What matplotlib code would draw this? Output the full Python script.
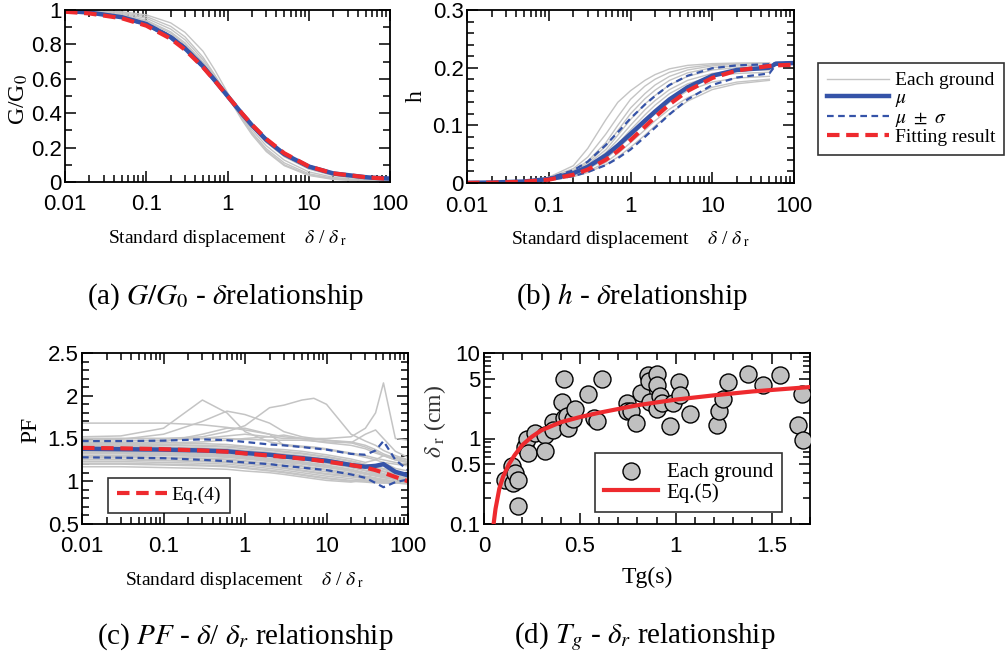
import matplotlib
matplotlib.use('Agg')
import matplotlib.pyplot as plt
from matplotlib.ticker import FixedLocator, LogLocator, MultipleLocator, NullFormatter, FixedFormatter
from matplotlib.lines import Line2D

plt.rcParams['font.family'] = ['Liberation Sans', 'DejaVu Sans']
plt.rcParams['mathtext.fontset'] = 'stix'

# ---------------- data ----------------
# (a),(b) x grid for individual grounds
X_G = [0.01, 0.02, 0.05, 0.1, 0.2, 0.3, 0.5, 0.7, 1, 1.5, 2, 3, 5, 10, 20, 50, 100]
# statistics / fitting x grid
X_STAT = [0.01, 0.02, 0.05, 0.1, 0.2, 0.3, 0.5, 0.7, 1, 1.5, 2, 3, 5, 10, 20, 50, 60, 100]

G_EACH = [
    [0.993, 0.986, 0.962, 0.925, 0.853, 0.789, 0.682, 0.597, 0.500, 0.390, 0.318, 0.230, 0.147, 0.075, 0.037, 0.014, 0.007],
    [0.996, 0.991, 0.973, 0.941, 0.873, 0.809, 0.697, 0.605, 0.500, 0.381, 0.303, 0.211, 0.127, 0.059, 0.027, 0.009, 0.004],
    [0.997, 0.994, 0.979, 0.952, 0.889, 0.827, 0.711, 0.614, 0.500, 0.372, 0.289, 0.194, 0.111, 0.048, 0.021, 0.006, 0.003],
    [0.998, 0.996, 0.985, 0.962, 0.905, 0.844, 0.725, 0.622, 0.500, 0.362, 0.275, 0.177, 0.095, 0.038, 0.015, 0.004, 0.002],
    [0.999, 0.997, 0.990, 0.972, 0.925, 0.870, 0.760, 0.650, 0.520, 0.375, 0.285, 0.185, 0.100, 0.042, 0.018, 0.006, 0.003],
    [0.994, 0.988, 0.968, 0.935, 0.865, 0.800, 0.690, 0.600, 0.505, 0.392, 0.320, 0.232, 0.150, 0.080, 0.042, 0.018, 0.010],
]
G_MU = [0.995, 0.985, 0.958, 0.918, 0.842, 0.777, 0.672, 0.590, 0.500, 0.398, 0.330, 0.245, 0.162, 0.090, 0.050, 0.028, 0.025, 0.020]
G_UP = [0.997, 0.988, 0.962, 0.923, 0.849, 0.785, 0.680, 0.597, 0.505, 0.403, 0.335, 0.250, 0.166, 0.094, 0.053, 0.030, 0.027, 0.021]
G_LO = [0.993, 0.982, 0.954, 0.913, 0.835, 0.769, 0.664, 0.583, 0.495, 0.393, 0.325, 0.240, 0.158, 0.086, 0.047, 0.026, 0.023, 0.019]
G_FIT = [0.990, 0.980, 0.952, 0.909, 0.833, 0.769, 0.667, 0.588, 0.500, 0.400, 0.333, 0.250, 0.167, 0.091, 0.050, 0.028, 0.025, 0.018]

X_H = [0.01, 0.02, 0.05, 0.1, 0.2, 0.3, 0.5, 0.7, 1, 1.5, 2, 3, 5, 10, 20, 50]
H_EACH = [
    [0.0, 0.001, 0.003, 0.010, 0.030, 0.060, 0.110, 0.140, 0.160, 0.178, 0.188, 0.198, 0.204, 0.207, 0.208, 0.208],
    [0.0, 0.001, 0.003, 0.009, 0.025, 0.045, 0.085, 0.115, 0.145, 0.168, 0.180, 0.192, 0.200, 0.205, 0.207, 0.208],
    [0.0, 0.0008, 0.0025, 0.008, 0.022, 0.038, 0.070, 0.100, 0.130, 0.155, 0.170, 0.185, 0.196, 0.203, 0.206, 0.207],
    [0.0, 0.0007, 0.0022, 0.0075, 0.020, 0.035, 0.064, 0.091, 0.120, 0.146, 0.161, 0.178, 0.191, 0.200, 0.203, 0.204],
    [0.0, 0.0006, 0.002, 0.007, 0.019, 0.032, 0.058, 0.083, 0.110, 0.137, 0.152, 0.170, 0.185, 0.196, 0.200, 0.200],
    [0.0, 0.0006, 0.002, 0.0065, 0.017, 0.029, 0.053, 0.075, 0.100, 0.127, 0.143, 0.162, 0.178, 0.190, 0.195, 0.196],
    [0.0, 0.0005, 0.002, 0.006, 0.016, 0.027, 0.048, 0.068, 0.092, 0.118, 0.135, 0.155, 0.172, 0.185, 0.190, 0.192],
    [0.0, 0.0004, 0.0018, 0.0055, 0.014, 0.024, 0.042, 0.060, 0.080, 0.104, 0.120, 0.140, 0.160, 0.175, 0.182, 0.185],
    [0.0, 0.0003, 0.0015, 0.005, 0.012, 0.020, 0.036, 0.051, 0.070, 0.092, 0.108, 0.128, 0.148, 0.166, 0.175, 0.180],
    [0.0, 0.0003, 0.0012, 0.0045, 0.011, 0.018, 0.032, 0.045, 0.062, 0.083, 0.099, 0.120, 0.142, 0.162, 0.172, 0.178],
]
H_MU = [0.0003, 0.0008, 0.0026, 0.0068, 0.017, 0.028, 0.048, 0.065, 0.085, 0.108, 0.124, 0.145, 0.166, 0.186, 0.196, 0.200, 0.207, 0.208]
H_UP = [0.0004, 0.0011, 0.0035, 0.0085, 0.022, 0.037, 0.066, 0.088, 0.112, 0.136, 0.151, 0.170, 0.186, 0.199, 0.204, 0.206, 0.208, 0.209]
H_LO = [0.0002, 0.0005, 0.0017, 0.0050, 0.012, 0.019, 0.031, 0.043, 0.058, 0.080, 0.096, 0.119, 0.145, 0.170, 0.183, 0.190, 0.205, 0.207]
H_FIT = [0.0002, 0.0006, 0.0022, 0.0058, 0.0143, 0.0233, 0.0404, 0.0555, 0.0742, 0.0976, 0.1143, 0.1364, 0.1597, 0.1821, 0.1951, 0.2030, 0.2040, 0.2050]

# (c) PF
X_PF = [0.01, 0.03, 0.1, 0.3, 0.6, 1, 2, 3, 5, 7, 10, 20, 30, 40, 50, 70, 100]
PF_EACH = [
    [1.68, 1.68, 1.68, 1.66, 1.63, 1.60, 1.55, 1.52, 1.50, 1.49, 1.48, 1.46, 1.42, 1.37, 1.32, 1.27, 1.23],
    [1.50, 1.50, 1.50, 1.52, 1.58, 1.65, 1.86, 1.89, 1.95, 1.97, 1.90, 1.55, 1.47, 1.42, 1.36, 1.30, 1.25],
    [1.52, 1.53, 1.62, 1.95, 1.80, 1.58, 1.46, 1.43, 1.41, 1.40, 1.38, 1.33, 1.30, 1.27, 1.25, 1.22, 1.20],
    [1.48, 1.49, 1.55, 1.70, 1.82, 1.78, 1.68, 1.58, 1.52, 1.50, 1.48, 1.45, 1.40, 1.35, 1.30, 1.25, 1.22],
    [1.47, 1.47, 1.48, 1.50, 1.53, 1.55, 1.52, 1.50, 1.50, 1.50, 1.50, 1.52, 1.62, 1.80, 2.15, 1.50, 1.48],
    [1.45, 1.45, 1.46, 1.55, 1.62, 1.62, 1.55, 1.42, 1.40, 1.39, 1.37, 1.32, 1.28, 1.25, 1.22, 1.20, 1.18],
    [1.50, 1.50, 1.50, 1.50, 1.50, 1.49, 1.48, 1.48, 1.48, 1.47, 1.46, 1.45, 1.55, 1.60, 1.50, 1.35, 1.28],
    [1.44, 1.44, 1.45, 1.46, 1.48, 1.50, 1.52, 1.54, 1.50, 1.47, 1.45, 1.42, 1.38, 1.33, 1.30, 1.28, 1.25],
    [1.45, 1.45, 1.45, 1.44, 1.43, 1.41, 1.38, 1.37, 1.35, 1.33, 1.31, 1.26, 1.22, 1.25, 1.30, 1.25, 1.22],
    [1.43, 1.43, 1.43, 1.42, 1.41, 1.40, 1.37, 1.35, 1.33, 1.31, 1.29, 1.24, 1.20, 1.17, 1.15, 1.11, 1.08],
    [1.42, 1.42, 1.42, 1.41, 1.40, 1.38, 1.36, 1.34, 1.32, 1.30, 1.28, 1.23, 1.19, 1.16, 1.14, 1.10, 1.07],
    [1.41, 1.41, 1.40, 1.39, 1.38, 1.36, 1.34, 1.32, 1.30, 1.28, 1.26, 1.21, 1.17, 1.14, 1.12, 1.09, 1.06],
    [1.40, 1.40, 1.39, 1.38, 1.37, 1.35, 1.33, 1.31, 1.29, 1.27, 1.25, 1.20, 1.16, 1.13, 1.11, 1.08, 1.05],
    [1.39, 1.39, 1.38, 1.37, 1.36, 1.34, 1.32, 1.30, 1.27, 1.25, 1.23, 1.18, 1.15, 1.12, 1.09, 1.06, 1.04],
    [1.38, 1.38, 1.37, 1.36, 1.35, 1.33, 1.30, 1.28, 1.26, 1.24, 1.22, 1.17, 1.13, 1.10, 1.08, 1.05, 1.03],
    [1.36, 1.36, 1.36, 1.35, 1.34, 1.32, 1.29, 1.27, 1.25, 1.23, 1.21, 1.16, 1.12, 1.09, 1.07, 1.04, 1.02],
    [1.35, 1.35, 1.34, 1.33, 1.32, 1.30, 1.27, 1.25, 1.23, 1.21, 1.19, 1.14, 1.10, 1.08, 1.06, 1.03, 1.01],
    [1.34, 1.34, 1.33, 1.32, 1.31, 1.29, 1.26, 1.24, 1.22, 1.20, 1.18, 1.13, 1.09, 1.07, 1.05, 1.03, 1.01],
    [1.33, 1.33, 1.32, 1.31, 1.30, 1.28, 1.25, 1.23, 1.21, 1.19, 1.17, 1.12, 1.08, 1.06, 1.04, 1.02, 1.00],
    [1.32, 1.32, 1.31, 1.30, 1.29, 1.27, 1.24, 1.22, 1.20, 1.18, 1.16, 1.12, 1.09, 1.07, 1.06, 1.04, 1.03],
    [1.30, 1.30, 1.30, 1.29, 1.28, 1.26, 1.23, 1.21, 1.18, 1.16, 1.14, 1.10, 1.06, 1.04, 1.02, 1.00, 0.99],
    [1.29, 1.29, 1.28, 1.27, 1.26, 1.24, 1.21, 1.19, 1.17, 1.15, 1.13, 1.08, 1.05, 1.03, 1.02, 1.00, 0.99],
    [1.28, 1.28, 1.27, 1.26, 1.25, 1.23, 1.20, 1.18, 1.15, 1.13, 1.11, 1.07, 1.04, 1.02, 1.01, 0.99, 0.98],
    [1.26, 1.26, 1.25, 1.24, 1.23, 1.21, 1.18, 1.16, 1.13, 1.11, 1.09, 1.06, 1.04, 1.02, 1.01, 0.99, 0.98],
    [1.25, 1.25, 1.24, 1.23, 1.22, 1.20, 1.17, 1.15, 1.12, 1.10, 1.08, 1.05, 1.03, 1.01, 1.00, 0.99, 0.98],
    [1.23, 1.23, 1.22, 1.21, 1.20, 1.18, 1.15, 1.13, 1.10, 1.08, 1.06, 1.03, 1.01, 1.00, 0.99, 0.99, 0.98],
    [1.21, 1.21, 1.20, 1.19, 1.18, 1.16, 1.13, 1.11, 1.08, 1.06, 1.04, 1.01, 1.00, 0.99, 0.98, 0.98, 0.97],
    [1.20, 1.20, 1.19, 1.18, 1.17, 1.15, 1.12, 1.10, 1.07, 1.05, 1.03, 1.00, 0.99, 0.98, 0.98, 0.98, 0.97],
    [1.17, 1.17, 1.16, 1.15, 1.14, 1.12, 1.10, 1.08, 1.05, 1.03, 1.01, 0.99, 1.02, 1.10, 1.22, 1.15, 1.12],
]
PF_MU = [1.38, 1.375, 1.37, 1.36, 1.35, 1.33, 1.31, 1.29, 1.27, 1.255, 1.24, 1.19, 1.17, 1.18, 1.20, 1.11, 1.07]
PF_UP = [1.47, 1.47, 1.475, 1.49, 1.48, 1.46, 1.43, 1.42, 1.40, 1.385, 1.37, 1.32, 1.31, 1.36, 1.47, 1.25, 1.13]
PF_LO = [1.28, 1.275, 1.27, 1.25, 1.235, 1.22, 1.20, 1.18, 1.16, 1.145, 1.13, 1.08, 1.04, 0.98, 0.93, 0.99, 1.02]
PF_FIT = [1.39, 1.385, 1.375, 1.36, 1.345, 1.325, 1.30, 1.285, 1.265, 1.25, 1.23, 1.19, 1.16, 1.13, 1.10, 1.05, 1.00]

# (d) Tg - delta_r
TG = [0.110, 0.144, 0.149, 0.162, 0.176, 0.179, 0.214, 0.222, 0.231, 0.266, 0.318, 0.318, 0.358, 0.362,
      0.405, 0.417, 0.417, 0.431, 0.440, 0.466, 0.475, 0.544, 0.574, 0.587, 0.614, 0.744, 0.748, 0.765,
      0.793, 0.817, 0.857, 0.862, 0.866, 0.904, 0.904, 0.904, 0.918, 0.927, 0.970, 0.984, 1.019, 1.022,
      1.075, 1.213, 1.223, 1.248, 1.274, 1.378, 1.457, 1.544, 1.638, 1.656, 1.665]
DR = [0.327, 0.475, 0.298, 0.397, 0.162, 0.327, 0.80, 1.00, 0.668, 1.16, 1.09, 0.718, 1.57, 1.25,
      2.68, 5.01, 1.76, 1.82, 1.34, 1.71, 2.24, 3.35, 1.76, 1.61, 5.01, 2.61, 2.08, 2.08,
      1.52, 3.41, 5.48, 4.71, 2.68, 5.74, 4.19, 2.20, 3.12, 2.61, 1.39, 2.57, 4.59, 3.21,
      1.96, 1.43, 2.10, 2.93, 4.59, 5.64, 4.19, 5.48, 1.43, 3.30, 0.957]
TG_FIT = [0.05, 0.06, 0.08, 0.1, 0.13, 0.16, 0.2, 0.25, 0.3, 0.4, 0.5, 0.6, 0.8, 1.0, 1.2, 1.4, 1.7]
DR_FIT = [0.10, 0.15, 0.26, 0.36, 0.50, 0.64, 0.84, 1.05, 1.25, 1.55, 1.78, 2.0, 2.45, 2.85, 3.2, 3.55, 4.0]

# ---------------- style ----------------
GRAY = '#c4c4c4'
BLUE = '#3553a8'
RED = '#ee2a2e'
SERIF = ['Liberation Serif', 'DejaVu Serif']
TICK_FS = 16
LAB_FS = 14
YLAB_FS = 17

fig = plt.figure(figsize=(10.07, 6.61), dpi=100)
W, H = 1007, 661


def ax_px(l, t, r, b):
    return fig.add_axes([l / W, 1 - b / H, (r - l) / W, (b - t) / H])


def style(ax):
    for s in ax.spines.values():
        s.set_linewidth(1.3)
    ax.tick_params(which='both', direction='in', top=True, right=True, labelsize=TICK_FS, width=1.1)
    ax.tick_params(axis='x', which='both', pad=9)
    ax.tick_params(axis='y', which='both', pad=2.5)
    ax.tick_params(which='major', length=8)
    ax.tick_params(which='minor', length=5)


def logx(ax):
    ax.set_xscale('log')
    ax.set_xlim(0.01, 100)
    ax.xaxis.set_major_locator(FixedLocator([0.01, 0.1, 1, 10, 100]))
    ax.xaxis.set_major_formatter(FixedFormatter(['0.01', '0.1', '1', '10', '100']))
    ax.xaxis.set_minor_locator(LogLocator(base=10, subs=range(2, 10), numticks=20))
    ax.xaxis.set_minor_formatter(NullFormatter())
    ax.set_xlabel('Standard displacement    $\\delta$ / $\\delta_{\\ \\mathrm{r}}$', family=SERIF, fontsize=LAB_FS, labelpad=9)


# (a)
axa = ax_px(65, 10, 390, 182)
for c in G_EACH:
    axa.plot(X_G, c, color=GRAY, lw=1.0)
axa.plot(X_STAT, G_UP, color=BLUE, lw=1.6, ls=(0, (3, 2)))
axa.plot(X_STAT, G_LO, color=BLUE, lw=1.6, ls=(0, (3, 2)))
axa.plot(X_STAT, G_MU, color=BLUE, lw=3.2)
axa.plot(X_STAT, G_FIT, color=RED, lw=3.0, ls=(0, (3, 1.6)))
logx(axa)
axa.set_ylim(0, 1)
axa.yaxis.set_major_locator(FixedLocator([0, 0.2, 0.4, 0.6, 0.8, 1.0]))
axa.yaxis.set_major_formatter(FixedFormatter(['0', '0.2', '0.4', '0.6', '0.8', '1']))
axa.yaxis.set_minor_locator(MultipleLocator(0.1))
axa.set_ylabel('G/G$_0$', family=SERIF, fontsize=YLAB_FS)
axa.yaxis.set_label_coords(-0.108, 0.48)
style(axa)

# (b)
axb = ax_px(467, 10, 794, 183)
for c in H_EACH:
    axb.plot(X_H, c, color=GRAY, lw=1.0)
axb.plot(X_STAT, H_UP, color=BLUE, lw=1.6, ls=(0, (3, 2)))
axb.plot(X_STAT, H_LO, color=BLUE, lw=1.6, ls=(0, (3, 2)))
axb.plot(X_STAT, H_MU, color=BLUE, lw=3.2)
axb.plot(X_STAT, H_FIT, color=RED, lw=3.0, ls=(0, (3, 1.6)))
logx(axb)
axb.set_ylim(0, 0.3)
axb.yaxis.set_major_locator(FixedLocator([0, 0.1, 0.2, 0.3]))
axb.yaxis.set_major_formatter(FixedFormatter(['0', '0.1', '0.2', '0.3']))
axb.yaxis.set_minor_locator(MultipleLocator(0.02))
axb.set_ylabel('h', family=SERIF, fontsize=YLAB_FS)
axb.yaxis.set_label_coords(-0.122, 0.5)
style(axb)

handles = [Line2D([], [], color=GRAY, lw=1.0),
           Line2D([], [], color=BLUE, lw=3.2),
           Line2D([], [], color=BLUE, lw=1.6, ls=(0, (3, 2))),
           Line2D([], [], color=RED, lw=3.0, ls=(0, (3, 1.6)))]
labels = ['Each ground', '$\\mu$', '$\\mu\\ \\pm\\ \\sigma$', 'Fitting result']
leg = fig.legend(handles, labels, loc='upper left', bbox_to_anchor=(818 / W, 1 - 63 / H),
                 prop={'family': SERIF, 'size': 14}, frameon=True, fancybox=False,
                 edgecolor='black', handlelength=3.2, handletextpad=0.3, borderaxespad=0,
                 labelspacing=0.0, borderpad=0.45)
leg.get_frame().set_linewidth(1.2)

# (c)
axc = ax_px(82, 353, 408, 524)
for c in PF_EACH:
    axc.plot(X_PF, c, color=GRAY, lw=1.1)
axc.plot(X_PF, PF_UP, color=BLUE, lw=1.6, ls=(0, (3, 2)))
axc.plot(X_PF, PF_LO, color=BLUE, lw=1.6, ls=(0, (3, 2)))
axc.plot(X_PF, PF_MU, color=BLUE, lw=3.2)
fit_c, = axc.plot(X_PF, PF_FIT, color=RED, lw=3.0, ls=(0, (3, 1.6)))
logx(axc)
axc.set_ylim(0.5, 2.5)
axc.yaxis.set_major_locator(FixedLocator([0.5, 1, 1.5, 2, 2.5]))
axc.yaxis.set_major_formatter(FixedFormatter(['0.5', '1', '1.5', '2', '2.5']))
axc.yaxis.set_minor_locator(MultipleLocator(0.1))
axc.set_ylabel('PF', family=SERIF, fontsize=YLAB_FS)
axc.yaxis.set_label_coords(-0.125, 0.55)
style(axc)
legc = axc.legend([fit_c], ['Eq.(4)'], loc='lower left', bbox_to_anchor=(0.08, 0.065),
                  prop={'family': SERIF, 'size': 14}, frameon=True, fancybox=False,
                  edgecolor='black', handlelength=2.6, handletextpad=0.2, borderaxespad=0,
                  borderpad=0.45)
legc.get_frame().set_linewidth(1.2)

# (d)
axd = ax_px(484, 353, 810, 524)
pts = axd.scatter(TG, DR, s=150, facecolor='#c0c0c0', edgecolor='black', linewidth=1.0, zorder=3)
fit_d, = axd.plot(TG_FIT, DR_FIT, color=RED, lw=3.0, zorder=4)
axd.set_yscale('log')
axd.set_xlim(0, 1.7)
axd.set_ylim(0.1, 10)
axd.xaxis.set_major_locator(FixedLocator([0, 0.5, 1, 1.5]))
axd.xaxis.set_major_formatter(FixedFormatter(['0', '0.5', '1', '1.5']))
axd.xaxis.set_minor_locator(MultipleLocator(0.1))
axd.yaxis.set_major_locator(FixedLocator([0.1, 0.5, 1, 5, 10]))
axd.yaxis.set_major_formatter(FixedFormatter(['0.1', '0.5', '1', '5', '10']))
axd.yaxis.set_minor_locator(LogLocator(base=10, subs=range(2, 10), numticks=20))
axd.yaxis.set_minor_formatter(NullFormatter())
axd.set_xlabel('Tg(s)', family=SERIF, fontsize=YLAB_FS, labelpad=7)
axd.set_ylabel('$\\delta_{\\ \\mathrm{r}}$ (cm)', family=SERIF, fontsize=YLAB_FS, color='#333333')
axd.yaxis.set_label_coords(-0.11, 0.6)
style(axd)
legd = axd.legend([pts, fit_d], ['Each ground', 'Eq.(5)'], loc='lower right', bbox_to_anchor=(0.915, 0.07),
                  prop={'family': SERIF, 'size': 15}, frameon=True, fancybox=False,
                  edgecolor='black', handlelength=2.6, handletextpad=0.4, borderaxespad=0,
                  labelspacing=0.05, borderpad=0.45)
legd.get_frame().set_linewidth(1.2)

# captions
CAP_FS = 21
fig.text(226 / W, 1 - 297 / H, '(a) $G/G_0$ - $\\delta$relationship', family=SERIF, fontsize=CAP_FS, ha='center', va='center')
fig.text(632 / W, 1 - 297 / H, '(b) $h$ - $\\delta$relationship', family=SERIF, fontsize=CAP_FS, ha='center', va='center')
fig.text(245 / W, 1 - 637 / H, '(c) $PF$ - $\\delta$/ $\\delta_r$ relationship', family=SERIF, fontsize=CAP_FS, ha='center', va='center')
fig.text(645 / W, 1 - 637 / H, '(d) $T_g$ - $\\delta_r$ relationship', family=SERIF, fontsize=CAP_FS, ha='center', va='center')

fig.savefig('out.png', dpi=100)
